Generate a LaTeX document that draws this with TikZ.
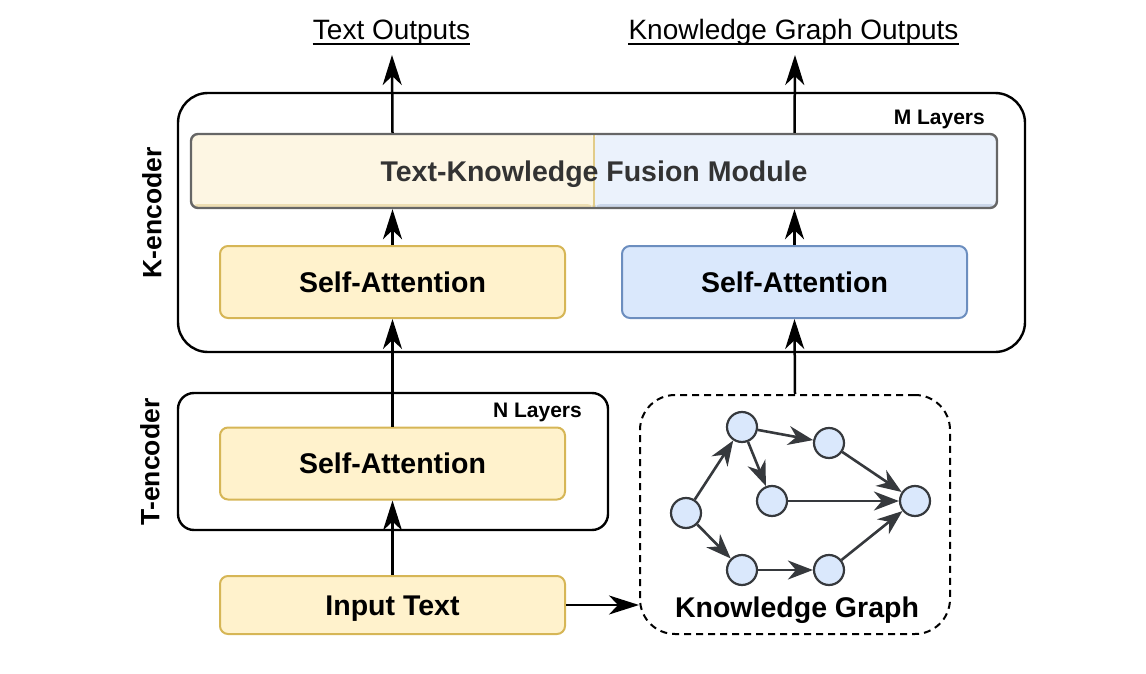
\documentclass[tikz,border=0pt]{standalone}
\usepackage{fontspec}
\setmainfont{Liberation Sans}
\usetikzlibrary{arrows.meta}
\definecolor{yfill}{HTML}{FFF2CC}
\definecolor{ydraw}{HTML}{D6B656}
\definecolor{bfill}{HTML}{DAE8FC}
\definecolor{bdraw}{HTML}{6C8EBF}
\definecolor{fusey}{HTML}{FDF6E3}
\definecolor{fuseb}{HTML}{EBF2FC}
\definecolor{fusedraw}{HTML}{666666}
\definecolor{gdark}{HTML}{36393D}
\tikzset{
  big/.style={font=\fontsize{28.5}{34}\selectfont\bfseries, text height=20.4, text depth=0},
  sabox/.style={rectangle, rounded corners=8, line width=2, minimum width=345, minimum height=72, inner sep=0, big},
  yellowbox/.style={sabox, fill=yfill, draw=ydraw},
  bluebox/.style={sabox, fill=bfill, draw=bdraw},
  encoder/.style={rectangle, draw=black, line width=2.4, inner sep=0},
  layerlab/.style={font=\fontsize{21}{25}\selectfont\bfseries, anchor=east, inner sep=0, text height=15, text depth=0},
  sidelab/.style={font=\fontsize{26.5}{31}\selectfont\bfseries, rotate=90, inner sep=0},
  outlab/.style={font=\fontsize{28}{34}\selectfont, inner sep=0, text height=20, text depth=0},
  flow/.style={line width=2.5, -{Stealth[length=30, width=19, inset=9]}},
  gnode/.style={circle, draw=gdark, fill=bfill, line width=2.2, minimum size=30, inner sep=0},
  gedge/.style={draw=gdark, line width=2.6, -{Stealth[length=25, width=19, inset=8]}},
}
\begin{document}
\begin{tikzpicture}[x=1pt, y=-1pt]
\useasboundingbox (0,0) rectangle (1146,674);
% encoder frames
\node[encoder, rounded corners=30, minimum width=847, minimum height=259] (kenc) at (601.5,222.5) {};
\node[encoder, rounded corners=16, minimum width=430, minimum height=137] (tenc) at (393,461.5) {};
\node[sidelab] (klab) at (152,213) {K-encoder};
\node[sidelab] (tlab) at (150,462) {T-encoder};
\node[layerlab] (mlay) at (985,117) {M Layers};
\node[layerlab] (nlay) at (582,410) {N Layers};
% fusion module
\node[rectangle, rounded corners=7, draw=fusedraw, line width=2.4, minimum width=806, minimum height=74, inner sep=0,
  path picture={
    \fill[fusey] (path picture bounding box.north west) rectangle (path picture bounding box.south);
    \fill[fuseb] (path picture bounding box.north) rectangle (path picture bounding box.south east);
    \fill[ydraw!45] ([yshift=4]path picture bounding box.south west) rectangle (path picture bounding box.south);
    \fill[bdraw!35] ([yshift=4]path picture bounding box.south) rectangle (path picture bounding box.south east);
    \draw[ydraw!70, line width=1.2] (path picture bounding box.north) -- (path picture bounding box.south);
  },
  big, text=black!80] (fuse) at (594,171) {Text-Knowledge Fusion Module};
% self-attention blocks
\node[yellowbox] (ksa) at (392.5,282) {Self-Attention};
\node[bluebox] (kgsa) at (794.5,282) {Self-Attention};
\node[yellowbox] (tsa) at (392.5,463.5) {Self-Attention};
\node[yellowbox, minimum height=58] (inp) at (392.5,605) {Input Text};
% knowledge graph container
\node[rectangle, draw=black, dashed, dash pattern=on 7 off 5, line width=2, rounded corners=35, minimum width=310, minimum height=239, inner sep=0] (kg) at (795,514.5) {};
\node[big, inner sep=0] (kglab) at (797,607) {Knowledge Graph};
% graph nodes
\node[gnode] (g1) at (686,513) {};
\node[gnode] (g2) at (742,427) {};
\node[gnode] (g3) at (829,443) {};
\node[gnode] (g4) at (772,501) {};
\node[gnode] (g5) at (915,501) {};
\node[gnode] (g6) at (742,570) {};
\node[gnode] (g7) at (829,570) {};
\draw[gedge] (g1) -- (g2);
\draw[gedge] (g1) -- (g6);
\draw[gedge] (g2) -- (g3);
\draw[gedge] (g2) -- (g4);
\draw[gedge] (g4) -- (g5);
\draw[gedge] (g3) -- (g5);
\draw[gedge] (g6) -- (g7);
\draw[gedge] (g7) -- (g5);
% outputs
\node[outlab] (tout) at (391.5,30) {Text Outputs};
\node[outlab] (kout) at (793.5,30) {Knowledge Graph Outputs};
\draw[line width=2.6] ([yshift=-4]tout.base west) -- ([yshift=-4]tout.base east);
\draw[line width=2.6] ([yshift=-4]kout.base west) -- ([yshift=-4]kout.base east);
\coordinate (toutend) at (392,55);
\coordinate (koutend) at (795,55);
% flows
\draw[flow] (inp.north) -- (tsa.south);
\draw[flow] (tsa.north) -- (ksa.south);
\draw[flow] (ksa.north) -- (ksa.north |- fuse.south);
\draw[flow] (ksa.north |- fuse.north) -- (toutend);
\draw[flow] (kg.north) -- (kgsa.south);
\draw[flow] (kgsa.north) -- (kgsa.north |- fuse.south);
\draw[flow] (kgsa.north |- fuse.north) -- (koutend);
\draw[flow] (inp.east) -- (inp.east -| kg.west);
\end{tikzpicture}
\end{document}
